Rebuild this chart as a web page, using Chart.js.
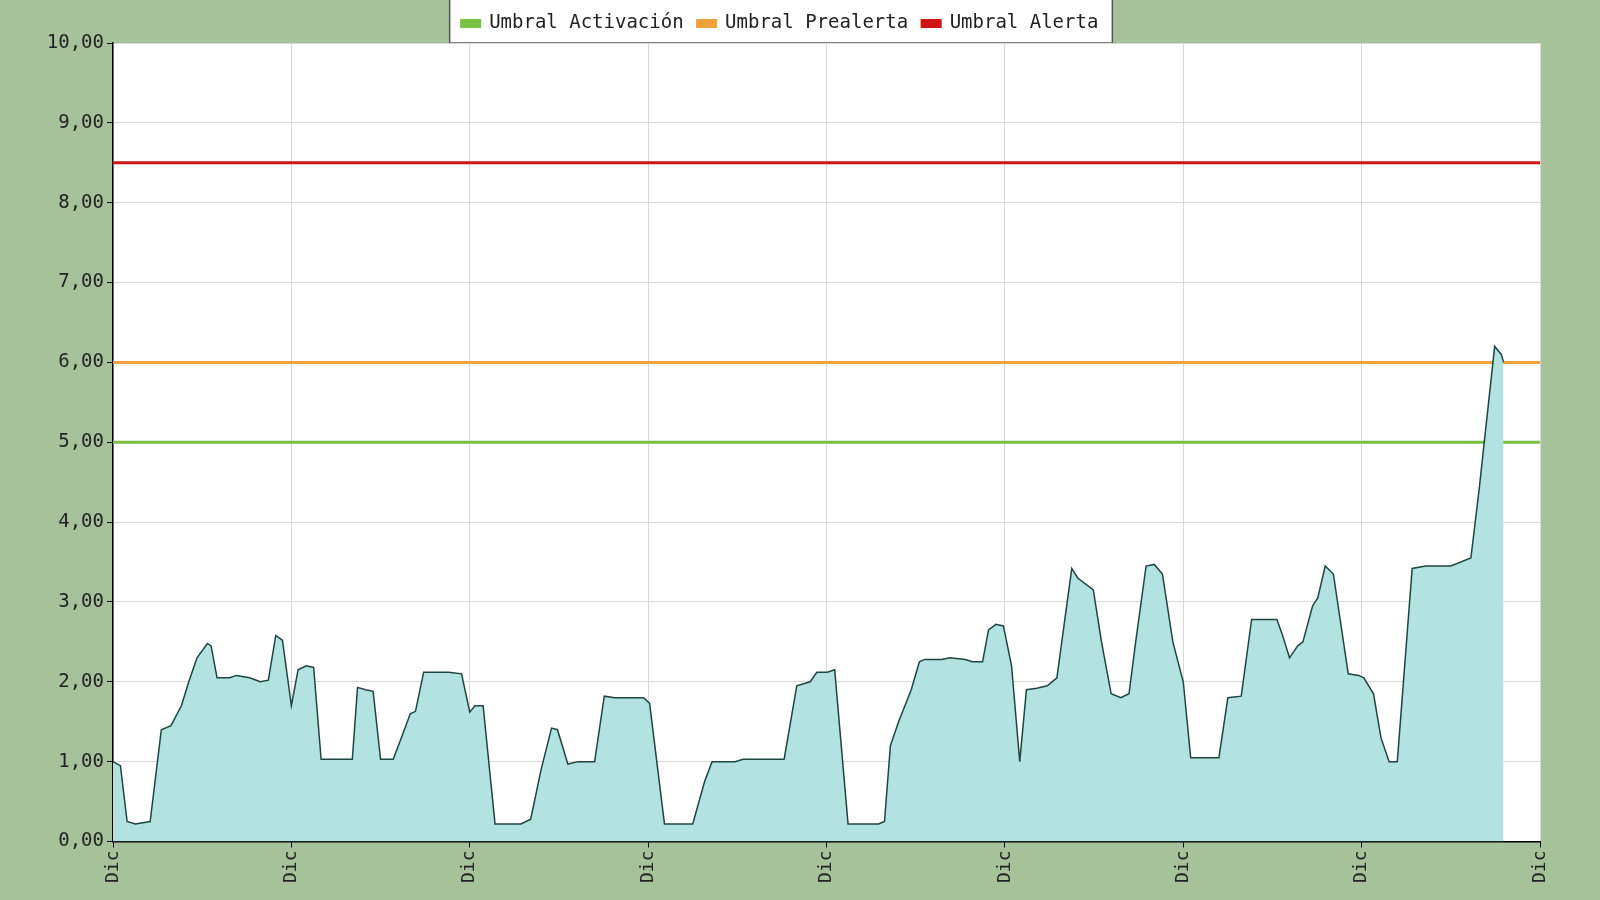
<!DOCTYPE html>
<html>
<head>
<meta charset="utf-8">
<script src="https://cdn.jsdelivr.net/npm/chart.js@4"></script>
<style>
  body { margin: 0; background: #a5c29b; }
  #wrap { width: 1600px; height: 900px; }
</style>
</head>
<body>
<div id="wrap"><canvas id="myChart" width="1600" height="900"></canvas></div>
<script>
// horas desde el inicio del periodo (8 dias)
const horas = [0,1,1.9,3,5,6.5,7.8,9.2,10.2,11.3,12.7,13.2,14,15.7,16.6,18.4,19.8,20.9,21.9,22.8,24,24.9,26,27,28,31.5,32.2,32.9,34,35,36,37.7,38.6,40,40.7,41.8,45.2,46.9,48,48.7,49.8,51.4,54.9,56.2,57.6,59,59.8,61.2,62.6,64.8,66.1,67.5,71.4,72.2,74.2,78,79.6,80.6,82,83.7,84.8,90.3,92,93.8,94.7,96.1,97.1,98.9,103,103.8,104.6,105.7,107.4,108.5,109.2,111.5,112.6,114.7,115.6,117,117.8,118.8,119.8,120.9,122,122.9,124.3,125.7,127,129,129.8,131.9,133,134.3,135.6,136.7,137.6,139,140.1,141.2,142.6,144,145,148.8,150,151.8,153.2,156.6,157.3,158.3,159.4,160.1,161.4,162.1,163.1,164.2,166.2,167.6,168.3,169.6,170.6,171.7,172.8,174.8,176.6,180,182.7,183.8,185.9,186.8,187.1];
const nivel = [1.0,0.95,0.25,0.22,0.25,1.4,1.45,1.7,2.0,2.3,2.48,2.45,2.05,2.05,2.08,2.05,2.0,2.02,2.58,2.52,1.7,2.15,2.2,2.18,1.03,1.03,1.03,1.93,1.9,1.88,1.03,1.03,1.25,1.6,1.63,2.12,2.12,2.1,1.62,1.7,1.7,0.22,0.22,0.28,0.9,1.42,1.4,0.97,1.0,1.0,1.82,1.8,1.8,1.73,0.22,0.22,0.75,1.0,1.0,1.0,1.03,1.03,1.95,2.0,2.12,2.12,2.15,0.22,0.22,0.25,1.2,1.5,1.9,2.25,2.28,2.28,2.3,2.28,2.25,2.25,2.65,2.72,2.7,2.2,1.0,1.9,1.92,1.95,2.05,3.42,3.3,3.15,2.5,1.85,1.8,1.85,2.5,3.45,3.47,3.35,2.5,2.0,1.05,1.05,1.8,1.82,2.78,2.78,2.6,2.3,2.45,2.5,2.95,3.05,3.45,3.35,2.1,2.08,2.05,1.85,1.3,1.0,1.0,3.42,3.45,3.45,3.55,4.4,6.2,6.1,6.0];

const umbralActivacion = 5;
const umbralPrealerta = 6;
const umbralAlerta = 8.5;
const totalHoras = 192;

let puntos = [];
for (let i = 0; i < horas.length; i++) {
  puntos.push({x: horas[i], y: nivel[i]});
}
let linea = function(v) { return [{x: 0, y: v}, {x: totalHoras, y: v}]; };

// fondo verde y caja blanca de la leyenda
const fondo = {
  id: 'fondo',
  beforeDraw(chart) {
    const ctx = chart.ctx;
    ctx.save();
    ctx.fillStyle = '#a5c29b';
    ctx.fillRect(0, 0, chart.width, chart.height);
    const a = chart.chartArea;
    ctx.fillStyle = '#ffffff';
    ctx.fillRect(a.left, a.top, a.right - a.left, a.bottom - a.top);
    const cajas = chart.legend.legendHitBoxes;
    if (cajas && cajas.length) {
      const izq = cajas[0].left - 12;
      const ult = cajas[cajas.length - 1];
      const der = ult.left + ult.width + 14;
      ctx.fillStyle = '#ffffff';
      ctx.fillRect(izq, -2, der - izq, 45);
      ctx.strokeStyle = '#555';
      ctx.lineWidth = 1.5;
      ctx.strokeRect(izq, -2, der - izq, 45);
    }
    ctx.restore();
  }
};

var myChart = document.getElementById('myChart').getContext('2d');
new Chart(myChart, {
  type: 'line',
  data: {
    datasets: [
      { label: 'Nivel', data: puntos, borderColor: '#1f4540', borderWidth: 1.5,
        backgroundColor: '#b2e3e1', fill: 'origin', pointRadius: 0, tension: 0 },
      { label: 'Umbral Activación', data: linea(umbralActivacion), borderColor: '#79c043',
        backgroundColor: '#79c043', borderWidth: 3, pointRadius: 0 },
      { label: 'Umbral Prealerta', data: linea(umbralPrealerta), borderColor: '#f0a23a',
        backgroundColor: '#f0a23a', borderWidth: 3, pointRadius: 0 },
      { label: 'Umbral Alerta', data: linea(umbralAlerta), borderColor: '#d01414',
        backgroundColor: '#d01414', borderWidth: 3, pointRadius: 0 }
    ]
  },
  options: {
    responsive: false,
    animation: false,
    layout: { padding: { left: 20, right: 60, top: 0, bottom: 14 } },
    plugins: {
      tooltip: { enabled: false },
      legend: {
        labels: {
          filter: (item) => item.datasetIndex > 0,
          font: { family: 'DejaVu Sans Mono', size: 19 },
          color: '#222',
          boxWidth: 18, boxHeight: 6, padding: 14
        }
      }
    },
    scales: {
      x: {
        type: 'linear', min: 0, max: totalHoras,
        grid: { color: '#d8d8d8', tickLength: 6, tickColor: '#000' },
        border: { color: '#000', width: 1.5 },
        ticks: { stepSize: 24, callback: () => 'Dic', maxRotation: 90, minRotation: 90,
          color: '#222', font: { family: 'DejaVu Sans Mono', size: 18 } }
      },
      y: {
        min: 0, max: 10,
        afterFit: (s) => { s.width = 93; },
        grid: { color: '#d8d8d8', tickLength: 6, tickColor: '#000' },
        border: { color: '#000', width: 1.5 },
        ticks: { stepSize: 1, callback: (v) => v.toFixed(2).replace('.', ','),
          color: '#222', font: { family: 'DejaVu Sans Mono', size: 19 } }
      }
    }
  },
  plugins: [fondo, {
    id: 'altoLeyenda',
    beforeInit(chart) {
      const orig = chart.legend ? chart.legend.fit : null;
    },
    afterUpdate() {}
  }]
});
</script>
</body>
</html>
